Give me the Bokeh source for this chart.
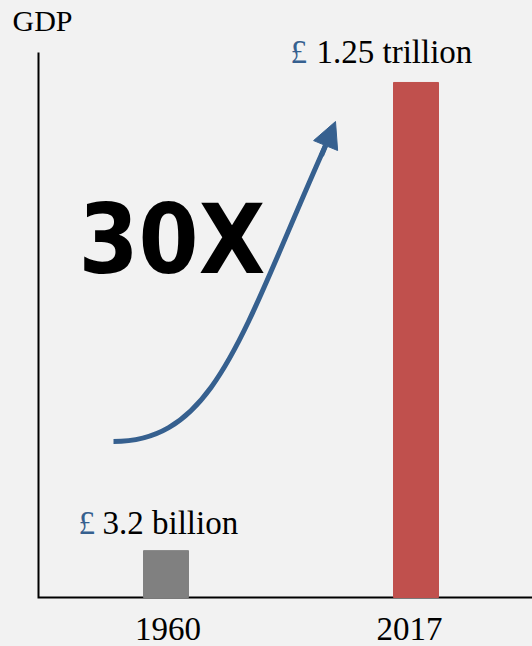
from bokeh.plotting import figure
from bokeh.models import ColumnDataSource, Range1d, LabelSet, Label, Arrow, NormalHead
from bokeh.core.properties import value
from bokeh.embed import file_html
from bokeh.resources import INLINE

# ---- data ----
years = ["1960", "2017"]
bar_heights = [0.086, 0.945]          # drawn bar heights (illustrative, relative to axis height = 1)
bar_colors = ["#808080", "#c0504d"]
gdp_labels = ["3.2 billion", "1.25 trillion"]
currency = ["£", "£"]
multiplier = "30X"
y_title = "GDP"

# ---- style ----
BG = "#f2f2f2"
BLUE = "#36608f"
SERIF = "Liberation Serif"
W, H = 532, 646
cur_dx = [-87.5, -125.5]
lab_dx = [-63.5, -99.5]
lab_dy = [17, 19]
tick_dx = [2, -6.5]


def sx(X):  # pixel -> data (x)
    return (X - 40.5) / 125


def sy(Y):  # pixel -> data (y)
    return (597 - Y) / 545


xs = [1 + 2 * i for i in range(len(years))]
src = ColumnDataSource(dict(x=xs, top=bar_heights, color=bar_colors, label=gdp_labels,
                            cur=currency, cur_dx=cur_dx, lab_dx=lab_dx, dy=lab_dy,
                            year=years, tick_dx=tick_dx, base=[0] * len(years)))

p = figure(width=W, height=H, x_range=Range1d(sx(0), sx(W)), y_range=Range1d(sy(H), sy(0)),
           output_backend="svg", toolbar_location=None, title=None,
           x_axis_location=None, y_axis_location=None,
           min_border_left=0, min_border_right=0, min_border_top=0, min_border_bottom=0)
p.background_fill_color = BG
p.border_fill_color = BG
p.outline_line_color = None
p.grid.visible = False

# axis lines
ax0 = sx(38)
p.line(x=[ax0, ax0, sx(W)], y=[1, 0, 0], line_color="black", line_width=2, line_join="miter")

# bars
p.vbar(x="x", top="top", bottom=0, width=0.36, color="color", source=src)

# growth arrow
p.bezier(x0=[sx(113)], y0=[sy(441)], x1=[sx(325)], y1=[sy(145)],
         cx0=[sx(215)], cy0=[sy(441)], cx1=[sx(241)], cy1=[sy(333)],
         line_color=BLUE, line_width=5)
p.add_layout(Arrow(end=NormalHead(size=26, fill_color=BLUE, line_color=BLUE, line_width=1),
                   x_start=sx(321), y_start=sy(155), x_end=sx(335), y_end=sy(121),
                   line_color=BLUE, line_width=5))

# category labels
p.add_layout(LabelSet(x="x", y="base", text="year", source=src, x_offset="tick_dx", y_offset=-42,
                      text_font=value(SERIF), text_font_size="33px", text_color="black",
                      text_align="center", text_baseline="alphabetic"))

# value labels
p.add_layout(LabelSet(x="x", y="top", text="cur", source=src, x_offset="cur_dx", y_offset="dy",
                      text_font=value(SERIF), text_font_size="33px", text_color=BLUE,
                      text_align="left", text_baseline="alphabetic"))
p.add_layout(LabelSet(x="x", y="top", text="label", source=src, x_offset="lab_dx", y_offset="dy",
                      text_font=value(SERIF), text_font_size="33px", text_color="black",
                      text_align="left", text_baseline="alphabetic"))

p.add_layout(Label(x=sx(12), y=sy(20), text=y_title, text_font=SERIF, text_font_size="30px",
                   text_color="black", text_align="left", text_baseline="alphabetic"))
p.add_layout(Label(x=sx(78), y=sy(239), text=multiplier,
                   text_font="DejaVu Sans Condensed, Liberation Sans Narrow, DejaVu Sans",
                   text_font_style="bold", text_font_size="96px", text_color="black",
                   text_align="left", text_baseline="alphabetic"))

html = file_html(p, INLINE)
html = html.replace("</head>", "<style>html,body{background:#f2f2f2;}</style></head>", 1)
open("out.html", "w").write(html)
